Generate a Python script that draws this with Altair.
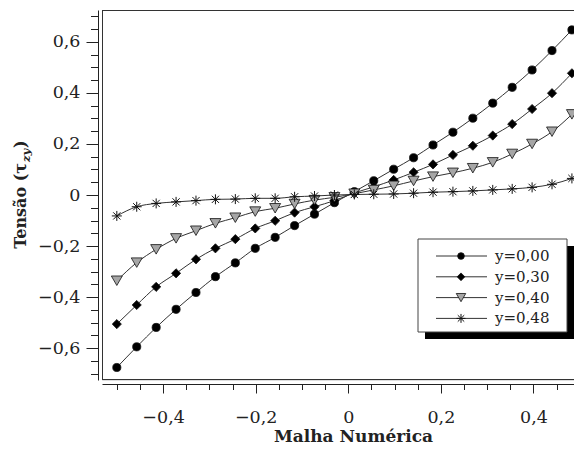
import altair as alt
import pandas as pd

# ---------------- data ----------------
x_vals = [-0.500, -0.457, -0.415, -0.372, -0.329, -0.287, -0.244, -0.201,
          -0.158, -0.116, -0.073, -0.030, 0.013, 0.055, 0.098, 0.141,
          0.183, 0.226, 0.269, 0.312, 0.354, 0.397, 0.440, 0.483]

series_names = ["y=0,00", "y=0,30", "y=0,40", "y=0,48"]

y000 = [-0.676, -0.595, -0.519, -0.448, -0.382, -0.320, -0.266, -0.209,
        -0.166, -0.120, -0.075, -0.030, 0.013, 0.056, 0.101, 0.146,
        0.196, 0.246, 0.301, 0.360, 0.422, 0.490, 0.566, 0.647]
y030 = [-0.506, -0.431, -0.360, -0.307, -0.252, -0.209, -0.173, -0.131,
        -0.101, -0.069, -0.046, -0.022, 0.008, 0.032, 0.059, 0.089,
        0.120, 0.157, 0.193, 0.233, 0.278, 0.337, 0.399, 0.477]
y040 = [-0.336, -0.265, -0.213, -0.170, -0.140, -0.111, -0.089, -0.065,
        -0.052, -0.035, -0.020, -0.009, 0.005, 0.020, 0.036, 0.055,
        0.072, 0.087, 0.105, 0.128, 0.161, 0.200, 0.248, 0.316]
y048 = [-0.082, -0.046, -0.033, -0.027, -0.022, -0.017, -0.016, -0.013,
        -0.013, -0.007, -0.004, 0.000, 0.002, 0.003, 0.004, 0.007,
        0.011, 0.013, 0.016, 0.020, 0.024, 0.030, 0.042, 0.065]

x_major = [-0.4, -0.2, 0, 0.2, 0.4]
x_minor = [-0.5, -0.45, -0.35, -0.3, -0.25, -0.15, -0.1, -0.05,
           0.05, 0.1, 0.15, 0.25, 0.3, 0.35, 0.45]
y_major = [-0.6, -0.4, -0.2, 0, 0.2, 0.4, 0.6]
y_minor = [-0.7, -0.65, -0.55, -0.5, -0.45, -0.35, -0.3, -0.25, -0.15, -0.1, -0.05,
           0.05, 0.1, 0.15, 0.25, 0.3, 0.35, 0.45, 0.5, 0.55, 0.65, 0.7]

x_title = "Malha Numérica"
y_title_main = "Tensão (τ"
y_title_sub = "zy"
y_title_end = ")"

# ---------------- styles ----------------
FONT = "DejaVu Serif"
INK = "#222222"
FRAME = "#333333"
shapes = ["circle", "diamond", "triangle-down",
          "M-1,0L1,0M0,-1L0,1M-0.72,-0.72L0.72,0.72M-0.72,0.72L0.72,-0.72"]
fills = ["#000000", "#000000", "#a6a6a6", None]
sizes = [66, 84, 120, 100]
leg_sizes = [45, 60, 90, 80]

rows = []
for name, ys in zip(series_names, [y000, y030, y040, y048]):
    for xv, yv in zip(x_vals, ys):
        rows.append({"x": xv, "v": yv, "s": name})
df = pd.DataFrame(rows)

W, H = 472, 370
x_scale = alt.Scale(domain=[-0.532, 0.4875], nice=False, zero=False)
y_scale = alt.Scale(domain=[-0.725, 0.725], nice=False, zero=False)


def lab_expr(major):
    arr = "[" + ",".join(str(v) for v in major) + "]"
    return ("indexof(" + arr + ", datum.value) >= 0 ? (datum.value == 0 ? '0' : "
            "replace(format(datum.value, '.1f'), '.', ',')) : ''")


def tick_cond(major, big, small):
    arr = "[" + ",".join(str(v) for v in major) + "]"
    return {"condition": {"test": "indexof(" + arr + ", datum.value) >= 0", "value": big},
            "value": small}


x_axis = alt.Axis(
    values=sorted(x_major + x_minor), offset=4, grid=False,
    tickSize=tick_cond(x_major, 9, 5.5), tickColor=INK, tickWidth=1,
    domainColor=INK, domainWidth=1,
    labelExpr=lab_expr(x_major), labelFont=FONT, labelFontSize=17.5, labelColor=INK,
    labelPadding=24, labelBaseline="middle", labelOverlap=False, labelFlush=False,
    title=x_title, titleFont=FONT, titleFontSize=17, titleFontWeight="bold",
    titleColor=INK, titleX=251, titleY=57, titleAlign="center", titleBaseline="alphabetic",
)
y_axis = alt.Axis(
    values=sorted(y_major + y_minor), offset=4, grid=False,
    tickSize=tick_cond(y_major, 12, 7.5), tickColor=INK, tickWidth=1,
    domainColor=INK, domainWidth=1,
    labelExpr=lab_expr(y_major), labelFont=FONT, labelFontSize=17.5, labelColor=INK,
    labelPadding=6, labelOverlap=False, labelFlush=False,
    title=None,
)

base = alt.Chart(df)
lines = base.mark_line(color="#333333", strokeWidth=1, interpolate="monotone").encode(
    x=alt.X("x:Q", scale=x_scale, axis=x_axis),
    y=alt.Y("v:Q", scale=y_scale, axis=y_axis),
    detail="s:N",
)

one = alt.Chart(pd.DataFrame({"a": [0]}))

# plot frame: top, left and bottom sides (right side runs off the picture)
layers = [
    one.mark_rule(color=FRAME, strokeWidth=1).encode(x=alt.value(0), x2=alt.value(W), y=alt.value(0.5)),
    one.mark_rule(color=FRAME, strokeWidth=1).encode(x=alt.value(0.5), y=alt.value(0), y2=alt.value(H)),
    one.mark_rule(color=FRAME, strokeWidth=1).encode(x=alt.value(0), x2=alt.value(W), y=alt.value(H - 0.5)),
    lines,
]
for name, shp, fl, sz in zip(series_names, shapes, fills, sizes):
    if fl is None:
        mk = dict(shape=shp, size=sz, filled=False, stroke="#111111", strokeWidth=1, opacity=1)
    else:
        mk = dict(shape=shp, size=sz, filled=True, fill=fl, stroke="#111111", strokeWidth=0.8, opacity=1)
    layers.append(
        base.transform_filter(alt.datum.s == name).mark_point(**mk).encode(
            x=alt.X("x:Q", scale=x_scale, axis=x_axis),
            y=alt.Y("v:Q", scale=y_scale, axis=y_axis),
        )
    )

# legend box with shadow (plot-area pixel layout)
LX0, LX1, LY0, LY1 = 316, 465, 229, 322
SH = 7
layers.append(one.mark_rect(fill="#000000").encode(
    x=alt.value(LX0 + SH), x2=alt.value(LX1 + SH), y=alt.value(LY0 + SH), y2=alt.value(LY1 + SH)))
layers.append(one.mark_rect(fill="#ffffff", stroke="#444444", strokeWidth=1).encode(
    x=alt.value(LX0), x2=alt.value(LX1), y=alt.value(LY0), y2=alt.value(LY1)))

for i, (name, shp, fl, sz) in enumerate(zip(series_names, shapes, fills, leg_sizes)):
    ry = 246 + i * 20.8
    layers.append(one.mark_rule(color="#333333", strokeWidth=1).encode(
        x=alt.value(LX0 + 18), x2=alt.value(LX0 + 69), y=alt.value(ry)))
    if fl is None:
        layers.append(one.mark_point(shape=shp, size=sz, filled=False, stroke="#111111",
                                     strokeWidth=1, opacity=1).encode(x=alt.value(LX0 + 43), y=alt.value(ry)))
    else:
        layers.append(one.mark_point(shape=shp, size=sz, filled=True, fill=fl, stroke="#111111",
                                     strokeWidth=0.8, opacity=1).encode(x=alt.value(LX0 + 43), y=alt.value(ry)))
    layers.append(one.mark_text(text=name, align="left", baseline="middle", font=FONT,
                                fontSize=15, color=INK).encode(x=alt.value(LX0 + 77), y=alt.value(ry)))

# y-axis title with subscript
layers.append(one.mark_text(text=y_title_main, angle=270, align="right", baseline="alphabetic",
                            font=FONT, fontSize=16, fontWeight="bold", color=INK).encode(
    x=alt.value(-76), y=alt.value(153)))
layers.append(one.mark_text(text=y_title_sub, angle=270, align="left", baseline="alphabetic",
                            font=FONT, fontSize=11.5, fontWeight="bold", fontStyle="italic", color=INK).encode(
    x=alt.value(-72), y=alt.value(152)))
layers.append(one.mark_text(text=y_title_end, angle=270, align="left", baseline="alphabetic",
                            font=FONT, fontSize=16, fontWeight="bold", color=INK).encode(
    x=alt.value(-76), y=alt.value(138)))

chart = alt.layer(*layers).properties(
    width=W, height=H,
    autosize=alt.AutoSizeParams(type="none"),
    padding={"left": 94, "top": 2, "right": 0, "bottom": 66},
).configure_view(strokeWidth=0).configure(background="#ffffff")

chart.save("out.html", embed_options={"renderer": "svg", "actions": False})
